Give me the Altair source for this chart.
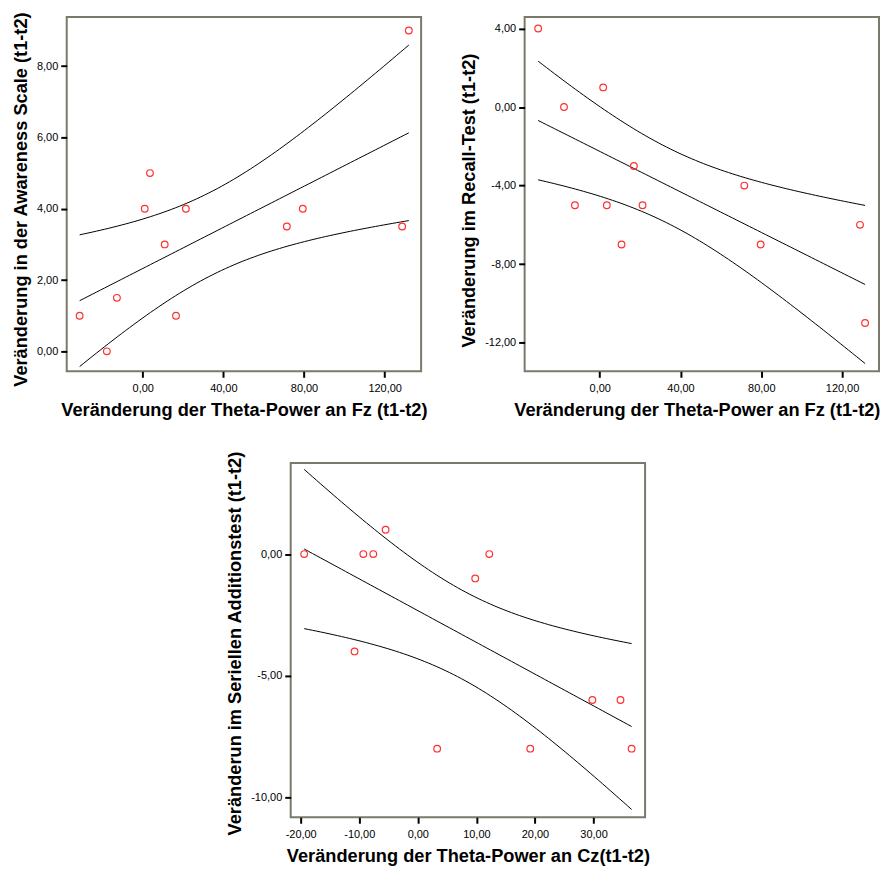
import altair as alt
import numpy as np
import pandas as pd

# ---- data ----
fz_x_awareness = [-31.3, -17.8, -12.8, 1.0, 3.6, 10.9, 16.5, 21.4, 71.5, 79.4, 128.7, 132.0]
awareness_y = [1.0, 0.0, 1.5, 4.0, 5.0, 3.0, 1.0, 4.0, 3.5, 4.0, 3.5, 9.0]

fz_x_recall = [-30.5, -17.7, -12.3, 1.7, 3.5, 10.8, 16.9, 21.2, 71.6, 79.7, 128.9, 131.4]
recall_y = [4.0, 0.0, -5.0, 1.0, -5.0, -7.0, -3.0, -5.0, -4.0, -7.0, -6.0, -11.0]

cz_x = [-19.4, -10.8, -9.3, -7.6, -5.5, 3.3, 9.8, 12.2, 19.2, 29.8, 34.6, 36.5]
addition_y = [0.0, -4.0, 0.0, 0.0, 1.0, -8.0, -1.0, 0.0, -8.0, -6.0, -6.0, -8.0]

fz_ticks = [0, 40, 80, 120]
awareness_ticks = [0, 2, 4, 6, 8]
recall_ticks = [-12, -8, -4, 0, 4]
cz_ticks = [-20, -10, 0, 10, 20, 30]
addition_ticks = [-10, -5, 0]

title_fz = "Veränderung der Theta-Power an Fz (t1-t2)"
title_cz = "Veränderung der Theta-Power an Cz(t1-t2)"
title_awareness = "Veränderung in der Awareness Scale (t1-t2)"
title_recall = "Veränderung im Recall-Test (t1-t2)"
title_addition = "Veränderun im Seriellen Additionstest (t1-t2)"

T975 = {10: 2.228}

LABEL = "replace(replace(format(datum.value, '.2f'), '.', ','), '\u2212', '-')"


def fit_bands(x, y, n_grid=80):
    """OLS fit line with 95% confidence band for the mean (as SPSS draws it)."""
    x = np.asarray(x, float)
    y = np.asarray(y, float)
    n = len(x)
    xb, yb = x.mean(), y.mean()
    sxx = ((x - xb) ** 2).sum()
    b = ((x - xb) * (y - yb)).sum() / sxx
    a = yb - b * xb
    s = np.sqrt(((y - a - b * x) ** 2).sum() / (n - 2))
    g = np.linspace(x.min(), x.max(), n_grid)
    fit = a + b * g
    half = T975[n - 2] * s * np.sqrt(1.0 / n + (g - xb) ** 2 / sxx)
    rows = []
    for name, vals in (("lo", fit - half), ("fit", fit), ("hi", fit + half)):
        for gx, gy in zip(g, vals):
            rows.append({"x": gx, "y": gy, "line": name})
    return pd.DataFrame(rows)


def panel(x, y, xdom, ydom, xt, yt, xtitle, ytitle, ytitle_y, xtitle_x=None):
    pts = pd.DataFrame({"x": x, "y": y})
    bands = fit_bands(x, y)
    xaxis_kw = dict(values=xt, title=xtitle, labelExpr=LABEL,
                    labelPadding=5, titlePadding=8)
    if xtitle_x is not None:
        xaxis_kw["titleX"] = xtitle_x
    xenc = alt.X("x:Q", scale=alt.Scale(domain=xdom, nice=False, zero=False),
                 axis=alt.Axis(**xaxis_kw))
    yenc = alt.Y("y:Q", scale=alt.Scale(domain=ydom, nice=False, zero=False),
                 axis=alt.Axis(values=yt, title=ytitle, labelExpr=LABEL,
                               labelPadding=3, titlePadding=6, titleY=ytitle_y))
    lines = alt.Chart(bands).mark_line(color="black", strokeWidth=1).encode(
        x=xenc, y=yenc, detail="line:N")
    points = alt.Chart(pts).mark_point(shape="circle", filled=False, color="#ff3030",
                                       size=45, strokeWidth=1.2, opacity=1).encode(
        x="x:Q", y="y:Q")
    return alt.layer(lines, points).properties(width=356, height=356)


p1 = panel(fz_x_awareness, awareness_y, [-37.7, 138.1], [-0.56, 9.38],
           fz_ticks, awareness_ticks, title_fz, title_awareness, 183)
p2 = panel(fz_x_recall, recall_y, [-37.2, 138.3], [-13.46, 4.59],
           fz_ticks, recall_ticks, title_fz, title_recall, 184, xtitle_x=173)
p3 = panel(cz_x, addition_y, [-21.7, 38.8], [-10.82, 3.75],
           cz_ticks, addition_ticks, title_cz, title_addition, 181)

spacer = alt.Chart(pd.DataFrame({"s": [0]})).mark_point(opacity=0).encode(
    x=alt.X("s:Q", axis=None), y=alt.Y("s:Q", axis=None)
).properties(width=225, height=10, view=alt.ViewBackground(stroke="transparent"))

top = alt.hconcat(p1, p2, spacing=104, bounds="flush")
bottom = alt.hconcat(spacer, p3, spacing=0, bounds="flush")

chart = alt.vconcat(top, bottom, spacing=29).properties(
    padding={"left": 2, "top": 0, "right": 0, "bottom": 0},
    background="white",
).configure_view(
    stroke="#7a7a6a", strokeWidth=2
).configure_axis(
    domain=False, grid=False,
    tickColor="black", tickWidth=2, tickSize=6,
    labelFont="Liberation Sans", labelFontSize=11, labelColor="black",
    titleFont="Liberation Sans", titleFontSize=18.3, titleFontWeight="bold",
    titleColor="black",
)

chart.save("out.html", embed_options={"renderer": "svg", "actions": False})
